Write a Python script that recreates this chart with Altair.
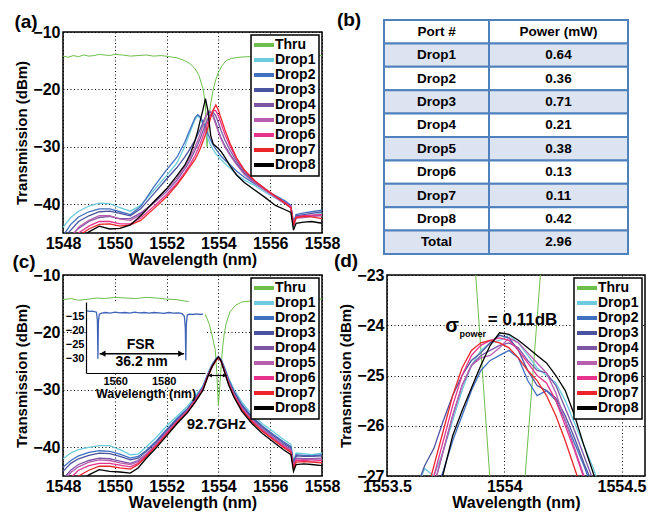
import altair as alt
import pandas as pd

FONT = "Liberation Sans"
SERIES = ["Thru", "Drop1", "Drop2", "Drop3", "Drop4", "Drop5", "Drop6", "Drop7", "Drop8"]
COLORS = ["#6cbf4a", "#6ccbdc", "#4170c0", "#4a53a0", "#7d55a5", "#b75fae", "#e8338e", "#ed2429", "#000000"]

# ---------------- panel (a) ----------------
A_THRU_WL = [1548.0, 1548.2, 1548.4, 1548.6, 1548.8, 1549.0, 1549.2, 1549.4, 1549.6, 1549.8, 1550.0, 1550.3,
             1550.6, 1550.9, 1551.2, 1551.5, 1551.8, 1552.1, 1552.4, 1552.7, 1552.9, 1553.1, 1553.25, 1553.4,
             1553.5, 1553.56, 1553.62, 1553.7, 1553.8, 1553.9, 1554.0, 1554.15, 1554.3, 1554.5, 1554.8, 1555.1,
             1555.5, 1556.0, 1556.5, 1557.0, 1557.5, 1558.0]
A_THRU_DB = [-14.2, -14.4, -14.1, -14.3, -14.0, -14.2, -14.1, -13.9, -14.0, -14.1, -13.9, -14.0,
             -14.2, -14.1, -14.0, -14.2, -14.1, -14.3, -14.5, -15.0, -15.5, -16.4, -17.6, -19.8,
             -22.5, -30.0, -25.5, -22.5, -20.0, -18.3, -17.0, -15.8, -15.0, -14.6, -14.4, -14.3,
             -14.3, -14.2, -14.3, -14.2, -14.2, -14.1]

A_WL = [1548.0, 1548.3, 1548.6, 1549.0, 1549.4, 1549.8, 1550.2, 1550.6, 1551.0, 1551.5, 1552.0, 1552.4,
        1552.7, 1552.9, 1553.1, 1553.2, 1553.3, 1553.4, 1553.5, 1553.6, 1553.7, 1553.8, 1553.9, 1554.0,
        1554.1, 1554.25, 1554.45, 1554.7, 1555.0, 1555.4, 1555.8, 1556.2, 1556.6, 1556.8, 1556.9, 1557.0,
        1557.3, 1557.6, 1558.0]
A_D1 = [-44.0, -42.3, -41.2, -40.3, -39.8, -39.9, -40.6, -41.2, -40.2, -37.6, -35.0, -32.8, -30.0, -27.5,
        -25.2, -24.6, -25.0, -26.0, -27.2, -28.6, -29.7, -30.5, -31.2, -31.7, -32.2, -32.9, -33.7, -34.8,
        -35.8, -36.7, -37.9, -38.9, -40.0, -40.6, -44.0, -42.2, -41.9, -42.0, -41.5]
A_D2 = [-45.5, -43.5, -42.2, -41.3, -40.8, -40.8, -41.3, -41.8, -40.4, -37.0, -34.0, -31.8, -29.2, -27.0,
        -24.9, -24.4, -24.8, -25.6, -26.6, -27.8, -28.8, -29.7, -30.4, -31.0, -31.6, -32.3, -33.1, -34.2,
        -35.3, -36.4, -37.5, -38.5, -39.5, -40.2, -43.2, -41.8, -41.5, -41.3, -41.0]
A_D3 = [-46.0, -44.5, -43.0, -42.0, -41.3, -41.2, -41.6, -42.0, -40.8, -38.2, -35.6, -33.6, -31.8, -30.4,
        -28.8, -27.9, -26.9, -25.8, -24.8, -24.1, -23.9, -24.5, -25.8, -27.2, -28.4, -29.8, -31.3, -32.9,
        -34.6, -36.2, -37.5, -38.7, -39.8, -40.5, -43.5, -42.0, -41.8, -41.6, -41.3]
A_D4 = [-47.0, -45.5, -44.2, -43.0, -42.3, -42.1, -42.5, -42.5, -41.5, -39.8, -37.8, -35.8, -33.9, -32.4,
        -30.6, -29.6, -28.5, -27.3, -26.1, -25.0, -24.3, -24.0, -24.6, -25.8, -27.1, -28.8, -30.6, -32.5,
        -34.3, -36.0, -37.4, -38.7, -39.9, -40.6, -43.8, -42.3, -42.2, -42.0, -41.9]
A_D5 = [-47.0, -45.8, -44.0, -42.8, -42.0, -42.0, -42.6, -42.8, -41.8, -39.6, -37.4, -35.4, -33.5, -31.9,
        -30.0, -28.9, -27.7, -26.3, -24.9, -23.8, -23.8, -24.8, -26.1, -27.4, -28.6, -30.0, -31.5, -33.1,
        -34.8, -36.3, -37.6, -38.8, -40.0, -40.7, -43.7, -42.4, -42.3, -42.1, -42.0]
A_D6 = [-48.0, -46.5, -45.0, -43.8, -43.0, -43.0, -43.4, -43.4, -42.4, -40.4, -38.3, -36.3, -34.5, -33.1,
        -31.5, -30.5, -29.4, -28.2, -26.9, -25.6, -24.5, -23.7, -23.7, -24.6, -25.9, -27.8, -29.9, -32.1,
        -34.1, -35.9, -37.3, -38.6, -39.8, -40.4, -43.6, -42.2, -42.0, -41.9, -41.8]
A_D7 = [-48.5, -47.0, -45.5, -44.3, -43.5, -43.4, -43.8, -43.6, -42.8, -40.8, -38.7, -36.6, -34.8, -33.5,
        -32.2, -31.3, -30.3, -29.1, -27.9, -26.5, -25.0, -23.6, -22.7, -23.6, -25.0, -27.0, -29.4, -31.9,
        -34.0, -35.9, -37.3, -38.6, -39.9, -40.6, -43.6, -42.3, -42.1, -42.2, -42.5]
A_D8 = [-49.0, -47.5, -46.0, -44.8, -43.8, -44.3, -44.2, -43.6, -42.0, -39.6, -37.3, -35.0, -33.2, -31.4,
        -28.9, -27.3, -25.4, -23.6, -21.6, -23.8, -28.0, -29.5, -29.9, -30.3, -30.8, -31.8, -33.3, -34.9,
        -36.2, -37.5, -38.8, -40.2, -41.0, -41.4, -44.5, -43.3, -43.1, -43.0, -43.3]

# ---------------- table (b) ----------------
TABLE_HEAD = ["Port #", "Power (mW)"]
PORTS = ["Drop1", "Drop2", "Drop3", "Drop4", "Drop5", "Drop6", "Drop7", "Drop8"]
POWER_MW = [0.64, 0.36, 0.71, 0.21, 0.38, 0.13, 0.11, 0.42]
TOTAL_MW = 2.96

# ---------------- panel (c) ----------------
C_THRU_WL = [1548.0, 1548.3, 1548.6, 1549.0, 1549.3, 1549.6, 1550.0, 1550.4, 1550.8, 1551.2, 1551.6, 1552.0,
             1552.4, 1552.8, 1553.1, 1553.3, 1553.5, 1553.65, 1553.75, 1553.82, 1553.878, 1553.938, 1554.0,
             1554.089, 1554.154, 1554.22, 1554.3, 1554.45, 1554.65, 1554.9, 1555.3, 1555.8, 1556.3, 1556.8,
             1557.3, 1557.7, 1558.0]
C_THRU_DB = [-14.3, -14.1, -14.4, -14.2, -14.0, -14.1, -13.9, -14.0, -14.1, -13.9, -14.0, -14.2,
             -14.3, -14.6, -15.1, -15.7, -16.9, -18.6, -20.4, -21.8, -23.0, -27.0, -32.8,
             -27.0, -23.0, -20.4, -18.4, -16.4, -15.3, -14.7, -14.5, -14.4, -14.3, -14.3,
             -14.2, -14.2, -14.2]

C_WL = [1548.0, 1548.3, 1548.6, 1549.0, 1549.4, 1549.8, 1550.2, 1550.6, 1550.9, 1551.2, 1551.6, 1552.0,
        1552.4, 1552.8, 1553.1, 1553.4, 1553.6, 1553.75, 1553.9, 1554.0, 1554.1, 1554.25, 1554.4, 1554.6,
        1554.9, 1555.3, 1555.7, 1556.1, 1556.5, 1556.8, 1556.9, 1557.0, 1557.3, 1557.6, 1558.0]
C_D1 = [-42.0, -41.0, -40.4, -40.0, -39.7, -39.7, -40.4, -41.3, -41.2, -40.0, -38.3, -36.3, -34.6, -32.9,
        -31.2, -29.3, -27.1, -25.6, -24.6, -24.2, -24.6, -26.2, -28.0, -29.9, -32.1, -34.3, -35.9, -37.2,
        -38.6, -39.5, -42.6, -41.0, -41.1, -41.3, -41.0]
C_D2 = [-43.5, -42.3, -41.5, -40.9, -40.6, -40.7, -41.2, -41.9, -41.6, -40.6, -38.9, -36.9, -35.0, -33.3,
        -31.5, -29.5, -27.2, -25.7, -24.6, -24.3, -24.7, -26.4, -28.3, -30.2, -32.5, -34.7, -36.3, -37.7,
        -39.0, -39.9, -42.8, -41.3, -41.4, -41.5, -41.3]
C_D3 = [-44.2, -42.8, -42.0, -41.4, -41.0, -41.1, -41.6, -42.2, -41.9, -40.8, -39.1, -37.1, -35.2, -33.4,
        -31.6, -29.6, -27.3, -25.8, -24.7, -24.3, -24.8, -26.5, -28.4, -30.4, -32.7, -34.9, -36.5, -37.9,
        -39.2, -40.1, -43.0, -41.5, -41.6, -41.6, -41.5]
C_D4 = [-45.5, -44.0, -43.0, -42.3, -41.9, -42.0, -42.4, -42.8, -42.3, -41.2, -39.4, -37.4, -35.4, -33.6,
        -31.7, -29.7, -27.4, -25.9, -24.8, -24.4, -24.9, -26.7, -28.6, -30.6, -33.0, -35.2, -36.8, -38.2,
        -39.5, -40.4, -43.3, -41.9, -42.0, -42.0, -41.9]
C_D5 = [-46.0, -44.4, -43.4, -42.6, -42.2, -42.3, -42.7, -43.0, -42.5, -41.3, -39.5, -37.5, -35.5, -33.7,
        -31.8, -29.8, -27.4, -25.9, -24.8, -24.3, -24.9, -26.8, -28.7, -30.8, -33.1, -35.3, -36.9, -38.3,
        -39.6, -40.5, -43.4, -42.0, -42.1, -42.1, -42.0]
C_D6 = [-47.0, -45.3, -44.0, -43.2, -42.8, -42.8, -43.1, -43.4, -42.8, -41.5, -39.7, -37.6, -35.6, -33.8,
        -31.9, -29.9, -27.5, -26.0, -24.9, -24.4, -25.0, -26.9, -28.9, -31.0, -33.3, -35.5, -37.1, -38.5,
        -39.8, -40.7, -43.6, -42.3, -42.3, -42.4, -42.3]
C_D7 = [-48.0, -46.2, -45.0, -44.0, -43.3, -43.3, -43.6, -43.8, -43.0, -41.7, -39.8, -37.8, -35.7, -33.9,
        -32.0, -30.0, -27.6, -26.1, -25.0, -24.4, -25.0, -27.0, -29.0, -31.1, -33.4, -35.6, -37.2, -38.6,
        -40.0, -40.9, -43.8, -42.6, -42.5, -42.6, -42.7]
C_D8 = [-49.0, -47.5, -46.0, -44.8, -43.9, -44.2, -44.3, -44.5, -43.6, -42.0, -40.1, -38.0, -35.9, -34.0,
        -32.2, -30.1, -27.6, -26.0, -24.8, -24.2, -24.9, -27.1, -29.2, -31.3, -33.7, -35.9, -37.6, -39.0,
        -40.4, -41.3, -44.2, -43.0, -42.9, -43.0, -43.2]

# inset of (c): wide-range through-port spectrum
INSET_WL = [1548.4, 1549.5, 1550.5, 1551.5, 1552.3, 1552.7, 1552.9, 1553.1, 1553.5, 1554.5, 1556.0, 1558.0,
            1560.0, 1562.0, 1564.0, 1566.0, 1568.0, 1570.0, 1572.0, 1574.0, 1576.0, 1578.0, 1580.0, 1582.0,
            1584.0, 1586.0, 1587.5, 1588.5, 1588.9, 1589.1, 1589.3, 1589.7, 1590.5, 1592.0, 1593.5, 1595.0,
            1596.2]
INSET_DB = [-13.1, -13.3, -13.2, -13.4, -13.6, -16.5, -30.0, -17.0, -14.3, -13.9, -13.7, -13.9,
            -13.6, -13.8, -13.7, -13.9, -13.6, -13.8, -13.7, -13.9, -13.7, -13.8, -14.0, -13.7,
            -13.9, -13.8, -14.1, -15.0, -19.0, -30.5, -18.0, -14.6, -14.3, -14.4, -14.2, -14.4,
            -14.3]
INSET_X = [1548, 1597]
INSET_Y = [-35, -10]
FSR_NM = 36.2
FWHM_GHZ = 92.7

# ---------------- panel (d) ----------------
D_WL = [1553.62, 1553.66, 1553.70, 1553.74, 1553.78, 1553.82, 1553.86, 1553.90, 1553.94, 1553.98, 1554.02,
        1554.06, 1554.10, 1554.14, 1554.18, 1554.22, 1554.26, 1554.30, 1554.34, 1554.38, 1554.42]
D_D1 = [-27.4, -26.85, -27.0, -26.5, -25.9, -25.3, -24.8, -24.5, -24.35, -24.3, -24.2,
        -24.35, -24.6, -24.85, -25.0, -25.15, -25.5, -25.95, -26.4, -26.85, -27.4]
D_D2 = [-28.5, -28.0, -27.4, -26.9, -26.3, -25.8, -25.3, -24.9, -24.7, -24.6, -24.5,
        -24.65, -25.1, -25.4, -25.3, -25.5, -25.9, -26.35, -26.8, -27.3, -27.8]
D_D3 = [-27.3, -26.8, -26.45, -25.9, -25.4, -25.0, -24.7, -24.55, -24.35, -24.2, -24.25,
        -24.5, -24.9, -25.2, -25.3, -25.45, -25.8, -26.25, -26.75, -27.2, -27.7]
D_D4 = [-28.3, -27.8, -27.2, -26.5, -25.8, -25.2, -24.8, -24.6, -24.5, -24.4, -24.35,
        -24.45, -24.7, -24.9, -24.95, -25.2, -25.65, -26.1, -26.6, -27.1, -27.6]
D_D5 = [-28.4, -27.9, -27.2, -26.5, -25.8, -25.2, -24.8, -24.65, -24.6, -24.45, -24.25,
        -24.35, -24.55, -24.75, -24.95, -25.35, -25.9, -26.45, -27.0, -27.5, -28.0]
D_D6 = [-28.3, -27.7, -27.0, -26.3, -25.6, -25.0, -24.6, -24.4, -24.3, -24.25, -24.3,
        -24.5, -24.75, -25.0, -25.15, -25.5, -26.0, -26.5, -27.05, -27.6, -28.1]
D_D7 = [-28.1, -27.5, -26.8, -26.1, -25.4, -24.85, -24.5, -24.35, -24.3, -24.35, -24.45,
        -24.65, -24.9, -25.1, -25.4, -25.8, -26.3, -26.85, -27.4, -27.9, -28.4]
D_D8 = [-28.8, -28.2, -27.6, -26.95, -26.2, -25.7, -25.25, -24.8, -24.4, -24.15, -24.18,
        -24.3, -24.45, -24.6, -24.75, -25.0, -25.3, -25.8, -26.4, -26.95, -27.5]
SIGMA_DB = 0.11


def long_df(wl, series_map):
    recs = []
    for name, vals in series_map.items():
        for w, v in zip(wl, vals):
            recs.append({"series": name, "wl": w, "db": v})
    return pd.DataFrame(recs)


def color_enc():
    return alt.Color("series:N", scale=alt.Scale(domain=SERIES, range=COLORS),
                     legend=alt.Legend(title=None, orient="top-right"))


def make_xy(xdom, ydom, xvals, yvals, xfmt):
    x = alt.X("wl:Q", scale=alt.Scale(domain=xdom, nice=False, zero=False),
              axis=alt.Axis(values=xvals, format=xfmt, title="Wavelength (nm)"))
    y = alt.Y("db:Q", scale=alt.Scale(domain=ydom, nice=False, zero=False),
              axis=alt.Axis(values=yvals, format="d", title="Transmission (dBm)"))
    return x, y


def panel_label(txt, px, py):
    return alt.Chart(pd.DataFrame({"t": [txt]})).mark_text(
        fontSize=19, fontWeight="bold", align="center", baseline="middle", color="black"
    ).encode(x=alt.value(px), y=alt.value(py), text="t:N")


def spectra(thru_wl, thru_db, wl, drops, x, y):
    thru = alt.Chart(long_df(thru_wl, {"Thru": thru_db})).mark_line(strokeWidth=1.0, clip=True).encode(
        x=x, y=y, color=color_enc())
    dd = alt.Chart(long_df(wl, drops)).mark_line(strokeWidth=1.3, clip=True).encode(
        x=x, y=y, color=color_enc())
    return thru, dd


# ----- (a)
xa, ya = make_xy([1548, 1558], [-45, -10], [1548, 1550, 1552, 1554, 1556, 1558], [-40, -30, -20, -10], "d")
thru_a, drops_a = spectra(A_THRU_WL, A_THRU_DB, A_WL,
                          {"Drop1": A_D1, "Drop2": A_D2, "Drop3": A_D3, "Drop4": A_D4,
                           "Drop5": A_D5, "Drop6": A_D6, "Drop7": A_D7, "Drop8": A_D8}, xa, ya)
panel_a = alt.layer(thru_a, drops_a, panel_label("(a)", -37, -10)).properties(width=259, height=201)

# ----- (b) table
rows = [(TABLE_HEAD[0], TABLE_HEAD[1])] + [(p, f"{v:.2f}") for p, v in zip(PORTS, POWER_MW)] + [("Total", f"{TOTAL_MW:.2f}")]
cells = []
for r, (c0, c1) in enumerate(rows):
    shade = "b" if r % 2 == 1 else "w"
    for c, txt in enumerate([c0, c1]):
        cells.append({"r0": r, "r1": r + 1, "rm": r + 0.5, "c0": c, "c1": c + 1, "cm": c + 0.5,
                      "txt": txt, "shade": shade})
cells_df = pd.DataFrame(cells)
tx = alt.Scale(domain=[0, 1, 2], range=[-3, 102, 241])
ty = alt.Scale(domain=[0, 10], range=[-12, 222])
t_rect = alt.Chart(cells_df).mark_rect(stroke="#4f81bd", strokeWidth=2).encode(
    x=alt.X("c0:Q", scale=tx, axis=None), x2="c1:Q",
    y=alt.Y("r0:Q", scale=ty, axis=None), y2="r1:Q",
    fill=alt.Fill("shade:N", scale=alt.Scale(domain=["w", "b"], range=["#ffffff", "#dce3f1"]), legend=None))
t_text = alt.Chart(cells_df).mark_text(fontSize=13.5, fontWeight="bold", color="black").encode(
    x=alt.X("cm:Q", scale=tx, axis=None), y=alt.Y("rm:Q", scale=ty, axis=None), text="txt:N")
table_b = alt.layer(t_rect, t_text, panel_label("(b)", -38, -12)).properties(
    width=259, height=201, view=alt.ViewBackground(stroke="transparent"))

# ----- (c)
xc, yc = make_xy([1548, 1558], [-45, -10], [1548, 1550, 1552, 1554, 1556, 1558], [-40, -30, -20, -10], "d")
thru_c, drops_c = spectra(C_THRU_WL, C_THRU_DB, C_WL,
                          {"Drop1": C_D1, "Drop2": C_D2, "Drop3": C_D3, "Drop4": C_D4,
                           "Drop5": C_D5, "Drop6": C_D6, "Drop7": C_D7, "Drop8": C_D8}, xc, yc)
fwhm_rule = alt.Chart(pd.DataFrame({"wl": [1553.6], "wl2": [1554.32], "db": [-27.5]})).mark_rule(
    color="black", strokeWidth=1.2).encode(x=xc, x2="wl2:Q", y=yc)
fwhm_heads = alt.Chart(pd.DataFrame({"wl": [1553.68, 1554.24], "db": [-27.5, -27.5],
                                     "shape": ["triangle-left", "triangle-right"]})).mark_point(
    filled=True, size=16, color="black", opacity=1).encode(x=xc, y=yc, shape=alt.Shape("shape:N", scale=None))
ghz_text = alt.Chart(pd.DataFrame({"wl": [1553.92], "db": [-36.0], "t": [f"{FWHM_GHZ}GHz"]})).mark_text(
    fontSize=15, fontWeight="bold", color="black").encode(x=xc, y=yc, text="t:N")
main_c = alt.layer(thru_c, drops_c, fwhm_rule, fwhm_heads, ghz_text, panel_label("(c)", -39, -13))

xi = alt.X("wl:Q", scale=alt.Scale(domain=INSET_X, range=[23, 142], nice=False, zero=False),
           axis=alt.Axis(orient="bottom", offset=-103, values=[1560, 1580], format="d", title="Wavelength (nm)",
                         grid=False, domain=True, domainColor="black", domainWidth=1.2, labelFontSize=11,
                         titleFontSize=12.5, labelPadding=2, titlePadding=1, zindex=1))
yi = alt.Y("db:Q", scale=alt.Scale(domain=INSET_Y, range=[98, 27], nice=False, zero=False),
           axis=alt.Axis(orient="left", offset=-23, values=[-30, -25, -20, -15], format="d", title=None,
                         grid=False, domain=True, domainColor="black", domainWidth=1.2, labelFontSize=11,
                         labelPadding=2, zindex=1))
inset_bg = alt.Chart(pd.DataFrame({"wl": [INSET_X[0]], "wl2": [INSET_X[1]], "db": [INSET_Y[0]],
                                   "db2": [INSET_Y[1]]})).mark_rect(fill="white").encode(
    x=xi, x2="wl2:Q", y=yi, y2="db2:Q")
inset_line = alt.Chart(pd.DataFrame({"wl": INSET_WL, "db": INSET_DB})).mark_line(
    color="#3e63b8", strokeWidth=1.3).encode(x=xi, y=yi)
fsr_rule = alt.Chart(pd.DataFrame({"wl": [1553.6], "wl2": [1588.4], "db": [-28.2]})).mark_rule(
    color="black", strokeWidth=1.5).encode(x=xi, x2="wl2:Q", y=yi)
fsr_heads = alt.Chart(pd.DataFrame({"wl": [1554.9, 1587.1], "db": [-28.2, -28.2],
                                    "shape": ["triangle-left", "triangle-right"]})).mark_point(
    filled=True, size=40, color="black", opacity=1).encode(x=xi, y=yi, shape=alt.Shape("shape:N", scale=None))
fsr_text = alt.Chart(pd.DataFrame({"wl": [1570.5, 1570.9], "db": [-25.3, -31.0],
                                   "t": ["FSR", f"{FSR_NM} nm"]})).mark_text(
    fontSize=14, fontWeight="bold", color="black").encode(x=xi, y=yi, text="t:N")
inset_c = alt.layer(inset_bg, inset_line, fsr_rule, fsr_heads, fsr_text)

panel_c = alt.layer(main_c, inset_c).resolve_scale(x="independent", y="independent").properties(
    width=259, height=201)

# ----- (d)
xd, yd = make_xy([1553.5, 1554.6], [-27, -23], [1553.5, 1554, 1554.5], [-27, -26, -25, -24, -23], "~f")
thru_d, drops_d = spectra(C_THRU_WL, C_THRU_DB, D_WL,
                          {"Drop1": D_D1, "Drop2": D_D2, "Drop3": D_D3, "Drop4": D_D4,
                           "Drop5": D_D5, "Drop6": D_D6, "Drop7": D_D7, "Drop8": D_D8}, xd, yd)
sig1 = alt.Chart(pd.DataFrame({"wl": [1553.778], "db": [-24.02], "t": ["σ"]})).mark_text(
    fontSize=20, fontWeight="bold", color="black").encode(x=xd, y=yd, text="t:N")
sig2 = alt.Chart(pd.DataFrame({"wl": [1553.866], "db": [-24.17], "t": ["power"]})).mark_text(
    fontSize=9, fontWeight="bold", color="black").encode(x=xd, y=yd, text="t:N")
sig3 = alt.Chart(pd.DataFrame({"wl": [1554.078], "db": [-23.9], "t": [f"= {SIGMA_DB}dB"]})).mark_text(
    fontSize=17, fontWeight="bold", color="black").encode(x=xd, y=yd, text="t:N")
panel_d = alt.layer(thru_d, drops_d, sig1, sig2, sig3, panel_label("(d)", -41, -14)).properties(
    width=258, height=201)

chart = alt.concat(panel_a, table_b, panel_c, panel_d, columns=2, bounds="flush",
                   spacing={"row": 42, "column": 65}).resolve_scale(color="independent").properties(
    padding={"left": 3, "top": 2, "right": 5, "bottom": 0}
).configure(font=FONT).configure_view(
    stroke="black", strokeWidth=1.5
).configure_axis(
    labelFontSize=16, labelFontWeight="bold", labelColor="black", titleFontSize=16, titleFontWeight="bold",
    titleColor="black", domain=False, ticks=False, grid=True, gridColor="black", gridDash=[1, 2.5],
    gridOpacity=1, gridWidth=1, labelPadding=3, titlePadding=3, labelFlush=False, labelOverlap=False
).configure_axisX(
    labelPadding=2, titlePadding=0
).configure_axisY(
    titleFontSize=15
).configure_legend(
    labelFontSize=14, labelFontWeight="bold", labelColor="black", symbolType="M-2,0H2", symbolSize=100,
    symbolStrokeWidth=4, padding=3, rowPadding=-6.5, offset=3, strokeColor="black", fillColor="white",
    strokeWidth=1.5, symbolOffset=3, labelOffset=4
)

chart.save("out.html", embed_options={"renderer": "svg", "actions": False})
